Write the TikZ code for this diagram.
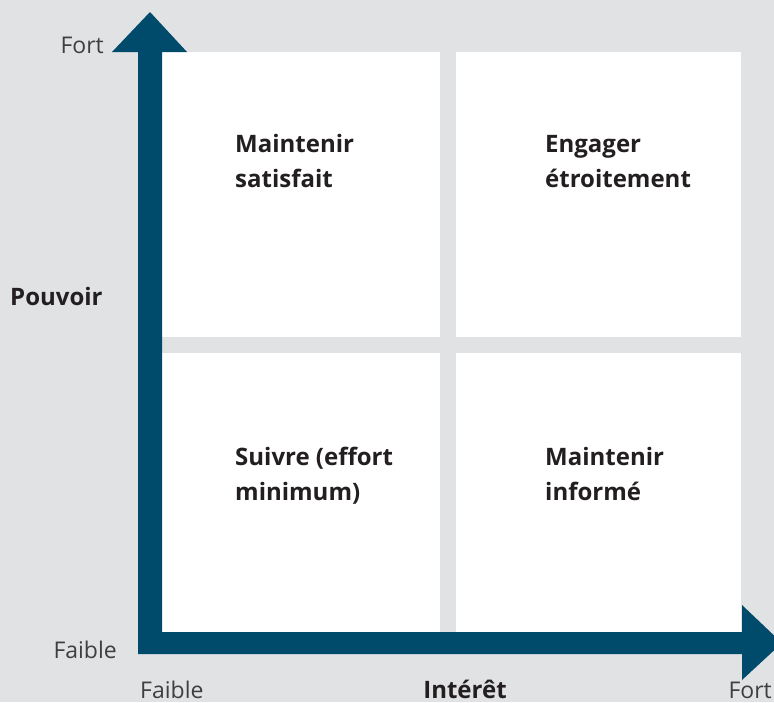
\documentclass[tikz,border=0pt]{standalone}
\usepackage{fontspec}
\setmainfont{Open Sans}
\definecolor{bg}{HTML}{E1E2E4}
\definecolor{axis}{HTML}{004A6B}
\definecolor{ink}{HTML}{231F20}
\definecolor{soft}{HTML}{3F3F3F}
\tikzset{
  quad/.style={fill=white, draw=none, anchor=north west, inner sep=0pt, outer sep=0pt},
  qlabel/.style={anchor=base west, align=left, text=ink, font=\fontsize{24}{35}\selectfont\bfseries, inner sep=0pt},
  tick/.style={text=soft, font=\fontsize{23}{25}\selectfont, inner sep=0pt},
  axislabel/.style={text=ink, font=\fontsize{24}{25}\selectfont\bfseries, inner sep=0pt}
}
\begin{document}
\begin{tikzpicture}[x=1pt,y=-1pt]
\fill[bg] (0,0) rectangle (774,702);
\useasboundingbox (0,0) rectangle (774,702);
\clip (0,0) rectangle (774,702);
% quadrants
\node[quad, minimum width=278pt, minimum height=285pt] (q1) at (162,52) {};
\node[quad, minimum width=285pt, minimum height=285pt] (q2) at (456,52) {};
\node[quad, minimum width=278pt, minimum height=279pt] (q3) at (162,353) {};
\node[quad, minimum width=285pt, minimum height=279pt] (q4) at (456,353) {};
% axes
\fill[axis] (138,654) -- (742,654) -- (742,680) -- (782,643) -- (742,605) -- (742,632)
  -- (162,632) -- (162,52) -- (187,52) -- (150,12) -- (112,52) -- (138,52) -- cycle;
% quadrant labels (anchor = baseline of last line)
\node[qlabel] (tl) at (235,187) {Maintenir\\satisfait};
\node[qlabel] (tr) at (545,187) {Engager\\étroitement};
\node[qlabel] (bl) at (235,500) {Suivre (effort\\minimum)};
\node[qlabel] (br) at (545,500) {Maintenir\\informé};
% axis labels
\node[tick, anchor=base east] (yhi) at (104,53) {Fort};
\node[tick, anchor=base east] (ylo) at (117,658) {Faible};
\node[tick, anchor=base west] (xlo) at (140,698) {Faible};
\node[tick, anchor=base east] (xhi) at (772,698) {Fort};
\node[axislabel, anchor=base west] (ylab) at (10,305) {Pouvoir};
\node[axislabel, anchor=base] (xlab) at (465,698) {Intérêt};
\end{tikzpicture}
\end{document}
